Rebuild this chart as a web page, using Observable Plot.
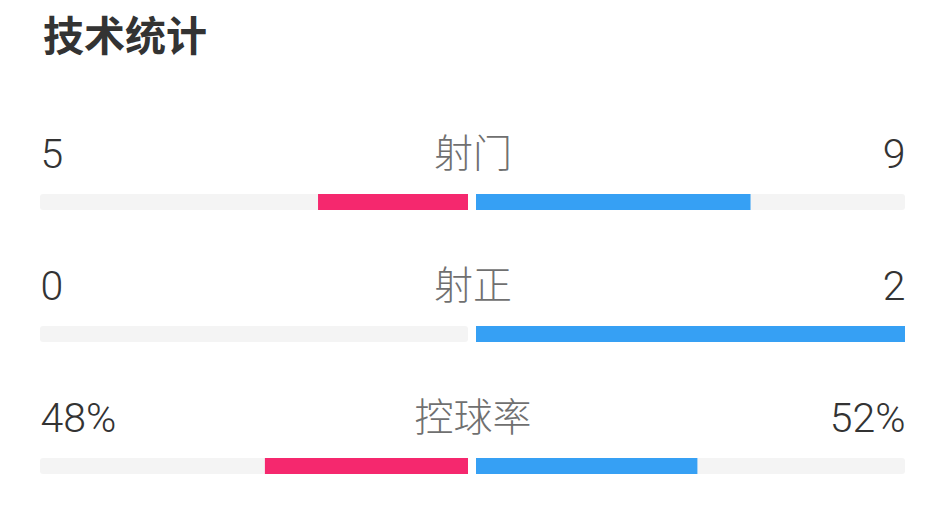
<!DOCTYPE html>
<html>
<head>
<meta charset="utf-8">
<script src="https://cdn.jsdelivr.net/npm/d3@7"></script>
<script src="https://cdn.jsdelivr.net/npm/@observablehq/plot@0.6"></script>
<style>
  html, body { margin: 0; padding: 0; background: #fff; }
  #title { margin: 0; padding-left: 43px; height: 72px; line-height: 66px; font-size: 41px; font-weight: bold; color: #333; font-family: "Noto Sans CJK SC", sans-serif; }
  #chart svg { display: block; }
</style>
</head>
<body>
<div id="title">技术统计</div>
<div id="chart"></div>
<script>
const categories = ["射门", "射正", "控球率"];
const homeValues = [5, 0, 48];
const awayValues = [9, 2, 52];
const homeLabels = ["5", "0", "48%"];
const awayLabels = ["9", "2", "52%"];

const homeColor = "#F5286E";
const awayColor = "#36A0F4";
const trackColor = "#F4F4F4";

const rows = categories.map((c, i) => {
  const total = homeValues[i] + awayValues[i];
  return {
    cat: c,
    home: total ? homeValues[i] / total : 0,
    away: total ? awayValues[i] / total : 0,
    homeLabel: homeLabels[i],
    awayLabel: awayLabels[i]
  };
});

const font = "Roboto, 'Noto Sans CJK SC', sans-serif";

const chart = Plot.plot({
  width: 945,
  height: 439,
  marginLeft: 40,
  marginRight: 40,
  marginTop: 0,
  marginBottom: 0,
  style: { fontFamily: font, background: "#fff" },
  x: { domain: [-1, 1], axis: null },
  y: { domain: categories, range: [122, 402], paddingInner: 0.8788, paddingOuter: 0, axis: null },
  marks: [
    Plot.barX(rows, { y: "cat", x1: -1, x2: 0, fill: trackColor, insetRight: 4.5, rx: 3 }),
    Plot.barX(rows, { y: "cat", x1: 0, x2: 1, fill: trackColor, insetLeft: 3.5, rx: 3 }),
    Plot.barX(rows.filter(d => d.home > 0), { y: "cat", x1: d => -d.home, x2: 0, fill: homeColor, insetRight: 4.5 }),
    Plot.barX(rows.filter(d => d.away > 0), { y: "cat", x1: 0, x2: d => d.away, fill: awayColor, insetLeft: 3.5 }),
    Plot.text(rows, { y: "cat", x: -1, text: "homeLabel", textAnchor: "start", dy: -48, fontSize: 41, fill: "#333", fontWeight: 300 }),
    Plot.text(rows, { y: "cat", x: 1, text: "awayLabel", textAnchor: "end", dy: -48, fontSize: 41, fill: "#333", fontWeight: 300 }),
    Plot.text(rows, { y: "cat", x: 0, text: "cat", textAnchor: "middle", dy: -48, fontSize: 39, fill: "#707070", fontFamily: "'Noto Sans CJK SC', sans-serif", fontWeight: 300 })
  ]
});
document.getElementById("chart").appendChild(chart);
</script>
</body>
</html>
